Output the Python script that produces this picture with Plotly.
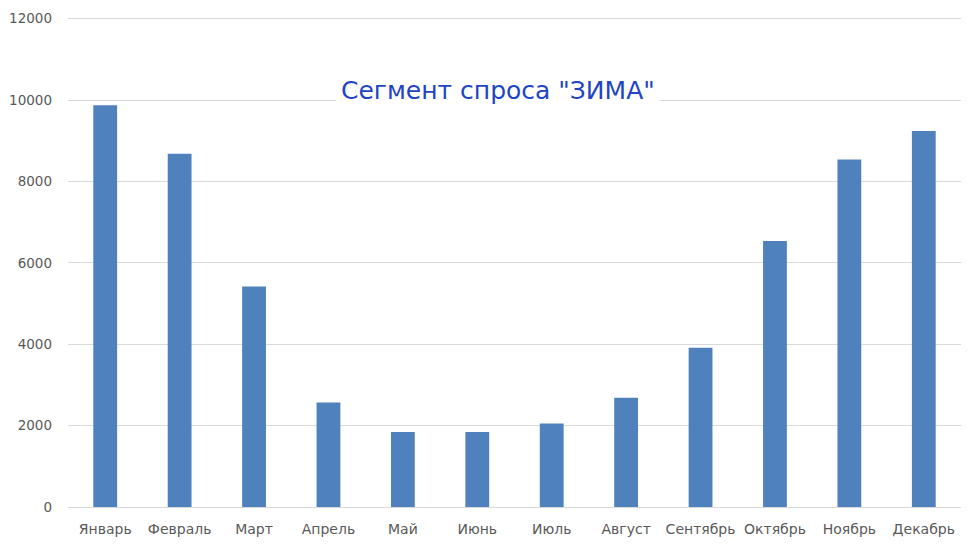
import plotly.graph_objects as go

months = ["Январь", "Февраль", "Март", "Апрель", "Май", "Июнь", "Июль",
          "Август", "Сентябрь", "Октябрь", "Ноябрь", "Декабрь"]
values = [9870, 8680, 5415, 2570, 1840, 1840, 2050, 2685, 3910, 6535, 8540, 9240]
y_ticks = [0, 2000, 4000, 6000, 8000, 10000, 12000]
title_text = 'Сегмент спроса "ЗИМА"'

# page body has an 8px margin; figure sized to fit in the window
OFF = 8
W, H = 971, 540
plot_left, plot_right, plot_top, plot_bottom = 68, 961, 17, 507
L = plot_left - OFF
R = W - (plot_right - OFF)
T = plot_top - OFF
B = H - (plot_bottom - OFF)

fig = go.Figure(go.Bar(
    x=months, y=values,
    marker=dict(color="#4f81bd", line=dict(width=0)),
    hoverinfo="x+y",
))

fig.update_layout(
    width=W, height=H,
    margin=dict(l=L, r=R, t=T, b=B, pad=0, autoexpand=False),
    paper_bgcolor="white", plot_bgcolor="white",
    bargap=0.68,
    showlegend=False,
    font=dict(family="DejaVu Sans, sans-serif", size=14, color="#595959"),
    xaxis=dict(showgrid=False, showline=False, zeroline=False, ticks="",
               automargin=False,
               tickfont=dict(size=14, color="#595959"), ticklabelstandoff=12),
    yaxis=dict(range=[0, 12040], tickvals=y_ticks, tickformat="d",
               automargin=False,
               showgrid=True, gridcolor="#d9d9d9", gridwidth=1, zeroline=True,
               zerolinecolor="#d9d9d9", zerolinewidth=1, showline=False,
               ticks="", tickfont=dict(size=13.5, color="#595959"),
               ticklabelstandoff=15),
    annotations=[dict(
        text=title_text, xref="paper", yref="paper",
        x=(498 - plot_left) / (plot_right - plot_left),
        y=(plot_bottom - 90) / (plot_bottom - plot_top),
        xanchor="center", yanchor="middle", showarrow=False,
        bgcolor="white", borderpad=4,
        font=dict(family="DejaVu Sans, sans-serif", size=25, color="#1f45c4"),
    )],
)

fig.write_html("out.html")
